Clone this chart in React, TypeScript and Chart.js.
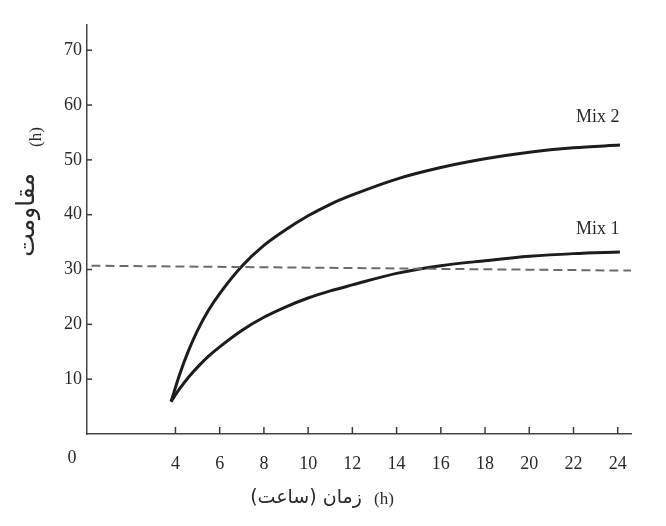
import React, { useEffect, useRef } from 'react';
import { Chart, registerables } from 'chart.js';

Chart.register(...registerables);

// ---- data ----
const hours = [3.8, 4.2, 4.6, 5, 5.5, 6, 7, 8, 9, 10, 11, 12, 14, 16, 18, 20, 22, 24.1];
const mix2 = [5.9, 11.0, 15.3, 18.9, 22.6, 25.6, 30.6, 34.4, 37.3, 39.8, 41.9, 43.6, 46.5, 48.6, 50.2, 51.4, 52.2, 52.7];
const mix1 = [5.9, 8.3, 10.4, 12.2, 14.2, 15.9, 18.9, 21.3, 23.2, 24.8, 26.1, 27.2, 29.3, 30.7, 31.6, 32.4, 32.9, 33.2];
const refHours = [0.2, 24.6];
const refLevel = [30.7, 29.8];
const xTicks = [4, 6, 8, 10, 12, 14, 16, 18, 20, 22, 24];
const yTicks = [10, 20, 30, 40, 50, 60, 70];
const seriesNames = ['Mix 1', 'Mix 2'];
const yTitle = 'مقاومت';
const xTitle = 'زمان (ساعت)';
const unitLabel = '(h)';

const TEXT = '#2a2a2a';
const SERIF = '"Liberation Serif", "DejaVu Serif", serif';

const overlay = {
  id: 'overlay',
  afterDraw(chart: any) {
    const ctx = chart.ctx;
    const xs = chart.scales.x;
    const ys = chart.scales.y;
    const area = chart.chartArea;
    ctx.save();
    // inward ticks
    ctx.strokeStyle = '#3a3a3a';
    ctx.lineWidth = 1.5;
    xTicks.forEach((v) => {
      const px = xs.getPixelForValue(v);
      ctx.beginPath();
      ctx.moveTo(px, area.bottom);
      ctx.lineTo(px, area.bottom - 7);
      ctx.stroke();
    });
    yTicks.forEach((v) => {
      const py = ys.getPixelForValue(v);
      ctx.beginPath();
      ctx.moveTo(area.left, py);
      ctx.lineTo(area.left + 5, py);
      ctx.stroke();
    });
    ctx.fillStyle = TEXT;
    ctx.textAlign = 'center';
    ctx.textBaseline = 'middle';
    // origin label
    ctx.font = '18px ' + SERIF;
    ctx.fillText('0', xs.getPixelForValue(0) - 15, area.bottom + 24);
    // series labels
    ctx.fillText(seriesNames[1], xs.getPixelForValue(23.1), ys.getPixelForValue(57.7));
    ctx.fillText(seriesNames[0], xs.getPixelForValue(23.1), ys.getPixelForValue(37.3));
    // y title
    ctx.save();
    ctx.translate(27, 215);
    ctx.rotate(-Math.PI / 2);
    ctx.font = '25px "DejaVu Sans", sans-serif';
    ctx.direction = 'rtl';
    ctx.fillText(yTitle, 0, 0);
    ctx.restore();
    ctx.save();
    ctx.translate(37, 137);
    ctx.rotate(-Math.PI / 2);
    ctx.font = '17px ' + SERIF;
    ctx.fillText(unitLabel, 0, 0);
    ctx.restore();
    // x title
    ctx.save();
    ctx.font = '19px "DejaVu Sans", sans-serif';
    ctx.direction = 'rtl';
    ctx.fillText(xTitle, 306, 498);
    ctx.restore();
    ctx.font = '17px ' + SERIF;
    ctx.fillText(unitLabel, 384, 500);
    ctx.restore();
  },
};

export default function App() {
  const ref = useRef<HTMLCanvasElement | null>(null);
  useEffect(() => {
    document.body.style.margin = '0';
    if (!ref.current) return;
    const chart = new Chart(ref.current, {
      type: 'line',
      data: {
        datasets: [
          {
            label: 'ref',
            data: refHours.map((x, i) => ({ x, y: refLevel[i] })),
            borderColor: '#6a6a6a',
            borderWidth: 2,
            borderDash: [9, 5],
            pointRadius: 0,
          },
          {
            label: seriesNames[0],
            data: hours.map((x, i) => ({ x, y: mix1[i] })),
            borderColor: '#1c1c1c',
            borderWidth: 3,
            pointRadius: 0,
            cubicInterpolationMode: 'monotone',
          },
          {
            label: seriesNames[1],
            data: hours.map((x, i) => ({ x, y: mix2[i] })),
            borderColor: '#1c1c1c',
            borderWidth: 3,
            pointRadius: 0,
            cubicInterpolationMode: 'monotone',
          },
        ],
      },
      options: {
        animation: false,
        responsive: false,
        layout: { padding: { top: 25, right: 35, left: 0, bottom: 0 } },
        plugins: { legend: { display: false }, tooltip: { enabled: false } },
        scales: {
          x: {
            type: 'linear',
            min: 0,
            max: 24.6,
            afterBuildTicks: (s: any) => {
              s.ticks = xTicks.map((v) => ({ value: v }));
            },
            afterFit: (s: any) => {
              s.height = 92;
            },
            grid: { drawOnChartArea: false, drawTicks: false },
            border: { color: '#444', width: 1.5 },
            ticks: {
              autoSkip: false,
              maxRotation: 0,
              padding: 19,
              color: TEXT,
              font: { family: SERIF, size: 18 },
              callback: (v: any) => String(v),
            },
          },
          y: {
            type: 'linear',
            min: 0,
            max: 74.6,
            afterBuildTicks: (s: any) => {
              s.ticks = yTicks.map((v) => ({ value: v }));
            },
            afterFit: (s: any) => {
              s.width = 87;
            },
            grid: { drawOnChartArea: false, drawTicks: false },
            border: { color: '#444', width: 1.5 },
            ticks: {
              padding: 5,
              color: TEXT,
              font: { family: SERIF, size: 18 },
              callback: (v: any) => String(v),
            },
          },
        },
      },
      plugins: [overlay],
    } as any);
    return () => chart.destroy();
  }, []);
  return (
    <div style={{ width: 666, height: 526, background: '#fff' }}>
      <canvas ref={ref} width={666} height={526} />
    </div>
  );
}
